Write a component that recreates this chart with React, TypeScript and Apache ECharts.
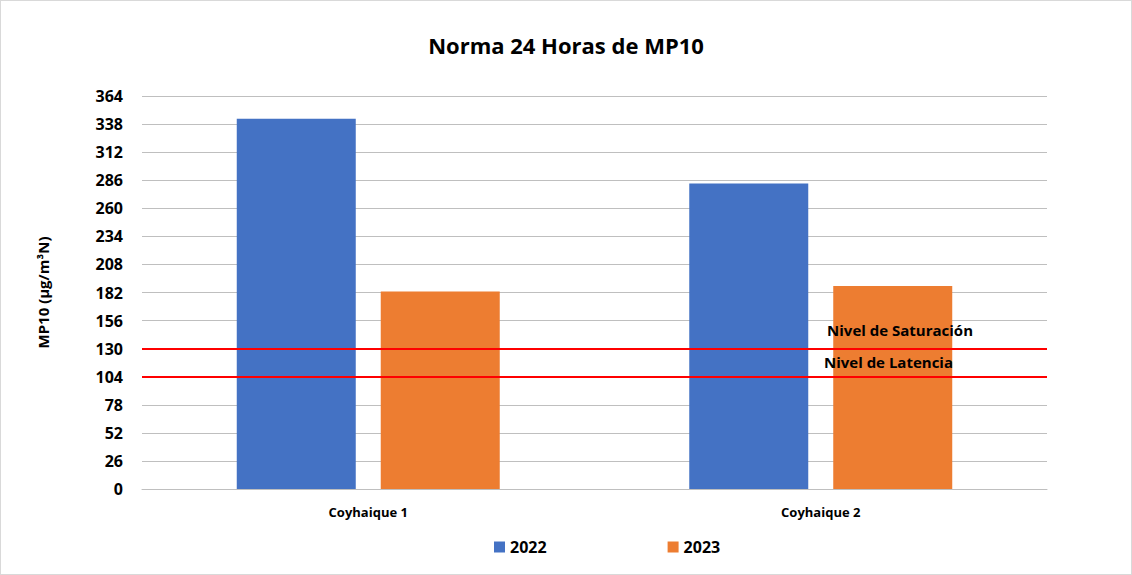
import React, { useEffect, useRef } from "react";
import * as echarts from "echarts";

const categories = ["Coyhaique 1", "Coyhaique 2"];
const seriesNames = ["2022", "2023"];
const values2022 = [343, 283];
const values2023 = [183, 188];
const thresholdValues = [130, 104];
const thresholdLabels = ["Nivel de Saturación", "Nivel de Latencia"];
const yMin = 0;
const yMax = 364;
const yInterval = 26;

const FONT = "'Open Sans', 'Noto Sans', sans-serif";

export default function App() {
  const ref = useRef<HTMLDivElement>(null);
  useEffect(() => {
    if (!ref.current) return;
    const chart = echarts.init(ref.current, undefined, { renderer: "svg" });
    chart.setOption({
      animation: false,
      backgroundColor: "#ffffff",
      title: {
        text: "Norma 24 Horas de MP10",
        left: "center",
        top: 28,
        textStyle: { fontFamily: FONT, fontWeight: "bold", fontSize: 22, color: "#000" },
      },
      legend: {
        bottom: 14,
        left: 488,
        itemWidth: 11,
        itemHeight: 11,
        itemGap: 121,
        icon: "rect",
        data: seriesNames,
        textStyle: { fontFamily: FONT, fontWeight: "bold", fontSize: 16, color: "#000" },
      },
      grid: { left: 141, right: 84, top: 95, bottom: 85 },
      xAxis: {
        type: "category",
        data: categories,
        axisTick: { show: false },
        axisLine: { lineStyle: { color: "#bfbfbf", width: 1 } },
        axisLabel: { fontFamily: FONT, fontWeight: "bold", fontSize: 13, color: "#000", margin: 16 },
      },
      yAxis: {
        type: "value",
        min: yMin,
        max: yMax,
        interval: yInterval,
        name: "MP10 (µg/m³N)",
        nameLocation: "middle",
        nameGap: 92,
        nameTextStyle: { fontFamily: FONT, fontWeight: "bold", fontSize: 15, color: "#000" },
        axisLine: { show: false },
        axisTick: { show: false },
        axisLabel: { fontFamily: FONT, fontWeight: "bold", fontSize: 16, color: "#000", margin: 19 },
        splitLine: { lineStyle: { color: "#bfbfbf", width: 1 } },
      },
      series: [
        {
          name: seriesNames[0],
          type: "bar",
          data: values2022,
          barWidth: 119,
          barGap: "21%",
          itemStyle: { color: "#4472c4" },
        },
        {
          name: seriesNames[1],
          type: "bar",
          data: values2023,
          barWidth: 119,
          itemStyle: { color: "#ed7d31" },
          markLine: {
            symbol: "none",
            silent: true,
            z: 10,
            lineStyle: { color: "#ff0000", width: 2, type: "solid" },
            data: thresholdValues.map((v, i) => ({
              yAxis: v,
              label: {
                show: true,
                formatter: thresholdLabels[i],
                position: "insideEndTop",
                distance: i === 0 ? [74, 11] : [94, 7],
                fontFamily: FONT,
                fontWeight: "bold",
                fontSize: 15,
                color: "#000",
              },
            })),
          },
        },
      ],
    });
    return () => chart.dispose();
  }, []);
  return (
    <div
      style={{
        position: "fixed",
        left: 0,
        top: 0,
        width: 1132,
        height: 575,
        boxSizing: "border-box",
        border: "1px solid #d9d9d9",
        background: "#fff",
      }}
    >
      <div ref={ref} style={{ width: "100%", height: "100%" }} />
    </div>
  );
}
